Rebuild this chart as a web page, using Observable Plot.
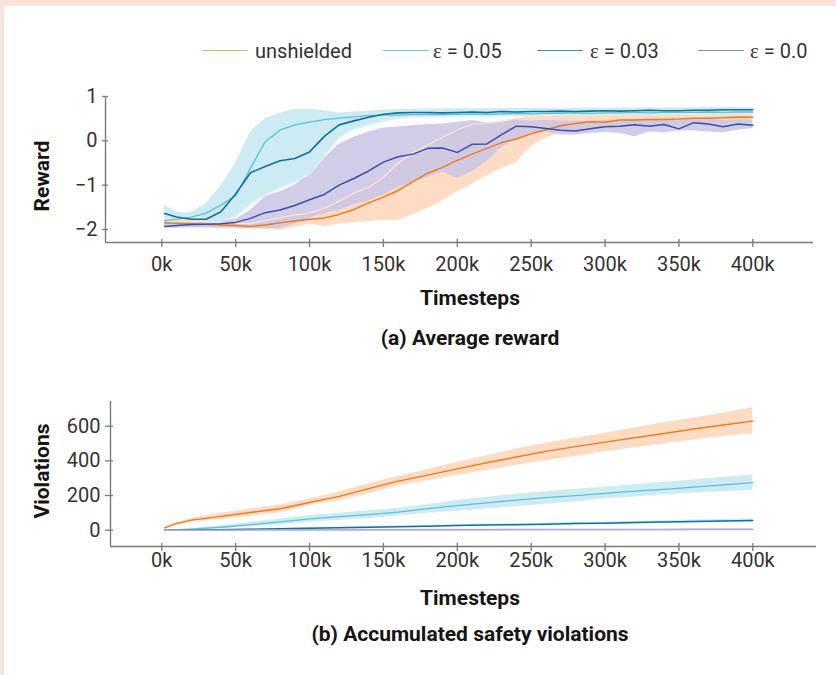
<!DOCTYPE html>
<html>
<head>
<meta charset="utf-8">
<script src="https://cdn.jsdelivr.net/npm/d3@7"></script>
<script src="https://cdn.jsdelivr.net/npm/@observablehq/plot@0.6"></script>
<style>
  html, body { margin: 0; padding: 0; background: #fff; }
  #page { position: relative; width: 836px; height: 675px; background: #fff; overflow: hidden; font-family: Roboto, sans-serif; }
  .bar-top { position: absolute; left: 0; top: 0; width: 836px; height: 6px; background: #f8e2da; }
  .bar-left { position: absolute; left: 0; top: 0; width: 4px; height: 675px; background: #f8e2da; }
  .chart { position: absolute; left: 0; }
  .lbl { position: absolute; white-space: nowrap; font-family: Roboto, sans-serif; font-weight: 700; font-size: 21px; color: #151515; transform: translate(-50%, -50%); }
  .lbl.rot { transform: translate(-50%, -50%) rotate(-90deg); }
  .leg-line { position: absolute; height: 0; border-top: 1.6px solid; }
  .leg-text { position: absolute; font-family: Roboto, sans-serif; font-size: 20px; line-height: 20px; color: #333; white-space: nowrap; }
  .eps { font-family: "Liberation Serif", serif; font-size: 21px; }
</style>
</head>
<body>
<div id="page">
  <div class="bar-top"></div>
  <div class="bar-left"></div>
</div>
<script>
// ---------- categories / series ----------
const seriesNames = ["unshielded", "ε = 0.05", "ε = 0.03", "ε = 0.0"];
const lineColors = ["#f07a22", "#5bc1d9", "#12709c", "#3b4ea5"];
const bandColors = ["#fddcc3", "#cdebf3", "#cdebf3", "#cbc6e5"];

// ---------- (a) Average reward, timesteps in thousands ----------
const xsReward = [2,10,20,30,40,50,60,70,80,90,100,110,120,130,140,150,160,170,180,190,200,210,220,230,240,250,260,270,280,290,300,310,320,330,340,350,360,370,380,390,400];

const rewardUnshielded   = [-1.85,-1.86,-1.87,-1.88,-1.90,-1.91,-1.93,-1.90,-1.85,-1.81,-1.77,-1.74,-1.66,-1.55,-1.40,-1.27,-1.12,-0.92,-0.73,-0.60,-0.44,-0.30,-0.17,-0.04,0.04,0.16,0.25,0.34,0.39,0.43,0.42,0.47,0.47,0.48,0.48,0.49,0.51,0.51,0.52,0.54,0.53];
const rewardUnshieldedLo = [-1.90,-1.94,-1.96,-1.97,-1.98,-1.98,-1.99,-2.00,-2.02,-1.95,-1.88,-1.93,-1.88,-1.84,-1.82,-1.79,-1.80,-1.66,-1.52,-1.35,-1.15,-0.98,-0.79,-0.63,-0.49,-0.12,0.06,0.18,0.21,0.26,0.28,0.30,0.32,0.36,0.34,0.36,0.38,0.40,0.40,0.42,0.42];
const rewardUnshieldedHi = [-1.80,-1.80,-1.80,-1.82,-1.84,-1.86,-1.87,-1.80,-1.74,-1.67,-1.63,-1.52,-1.36,-1.18,-1.05,-0.82,-0.50,-0.27,-0.09,0.08,0.25,0.37,0.40,0.44,0.51,0.56,0.58,0.60,0.62,0.62,0.61,0.60,0.62,0.63,0.62,0.63,0.63,0.64,0.63,0.65,0.64];

const rewardEps05   = [-1.80,-1.77,-1.72,-1.63,-1.45,-1.24,-0.62,-0.02,0.24,0.36,0.42,0.48,0.51,0.54,0.57,0.58,0.58,0.59,0.60,0.59,0.60,0.61,0.60,0.61,0.62,0.61,0.62,0.62,0.63,0.62,0.63,0.63,0.64,0.63,0.64,0.64,0.64,0.65,0.64,0.65,0.65];
const rewardEps05Lo = [-1.84,-1.85,-1.82,-1.76,-1.62,-1.45,-1.05,-0.45,-0.05,0.16,0.28,0.36,0.41,0.45,0.49,0.51,0.53,0.54,0.55,0.55,0.56,0.56,0.56,0.57,0.57,0.57,0.58,0.58,0.58,0.58,0.59,0.59,0.59,0.60,0.60,0.60,0.60,0.61,0.61,0.61,0.61];
const rewardEps05Hi = [-1.46,-1.64,-1.62,-1.42,-1.02,-0.50,0.20,0.50,0.62,0.71,0.72,0.68,0.62,0.65,0.67,0.69,0.70,0.71,0.71,0.72,0.72,0.72,0.73,0.72,0.73,0.73,0.72,0.73,0.73,0.74,0.73,0.73,0.74,0.74,0.73,0.74,0.74,0.74,0.75,0.74,0.74];

const rewardEps03   = [-1.64,-1.72,-1.77,-1.77,-1.60,-1.20,-0.72,-0.58,-0.45,-0.40,-0.25,0.10,0.36,0.45,0.53,0.60,0.63,0.64,0.64,0.63,0.64,0.65,0.64,0.66,0.65,0.66,0.66,0.67,0.66,0.67,0.68,0.67,0.68,0.69,0.68,0.68,0.69,0.69,0.70,0.70,0.70];
const rewardEps03Lo = [-1.83,-1.87,-1.87,-1.86,-1.82,-1.70,-1.42,-1.22,-1.06,-0.92,-0.76,-0.36,0.08,0.26,0.36,0.44,0.52,0.54,0.55,0.56,0.56,0.57,0.56,0.57,0.58,0.57,0.58,0.58,0.59,0.58,0.59,0.60,0.59,0.60,0.60,0.60,0.61,0.60,0.61,0.61,0.62];
const rewardEps03Hi = [-1.46,-1.60,-1.66,-1.60,-1.30,-0.80,-0.30,0.05,0.20,0.30,0.40,0.55,0.60,0.64,0.67,0.69,0.70,0.70,0.71,0.71,0.71,0.72,0.71,0.72,0.72,0.72,0.73,0.72,0.73,0.73,0.73,0.74,0.73,0.74,0.74,0.74,0.74,0.75,0.74,0.75,0.75];

const rewardEps0   = [-1.93,-1.91,-1.89,-1.88,-1.87,-1.84,-1.75,-1.62,-1.56,-1.46,-1.33,-1.21,-1.00,-0.85,-0.68,-0.48,-0.36,-0.30,-0.17,-0.16,-0.26,-0.08,-0.07,0.14,0.33,0.32,0.28,0.24,0.22,0.27,0.32,0.33,0.36,0.33,0.37,0.27,0.41,0.38,0.32,0.38,0.35];
const rewardEps0Lo = [-1.97,-1.97,-1.96,-1.96,-1.96,-1.97,-1.98,-1.98,-1.98,-1.88,-1.74,-1.64,-1.56,-1.44,-1.36,-1.22,-1.05,-0.94,-0.83,-0.70,-0.85,-0.70,-0.47,-0.15,0.04,0.17,0.20,0.13,0.13,0.17,0.18,0.17,0.09,0.20,0.18,0.22,0.23,0.20,0.18,0.24,0.28];
const rewardEps0Hi = [-1.87,-1.86,-1.85,-1.84,-1.82,-1.77,-1.57,-1.26,-1.15,-1.00,-0.74,-0.40,-0.08,0.08,0.20,0.29,0.31,0.34,0.36,0.38,0.42,0.46,0.40,0.43,0.47,0.45,0.46,0.45,0.44,0.45,0.46,0.47,0.48,0.47,0.49,0.45,0.50,0.50,0.46,0.48,0.47];

// ---------- (b) Accumulated safety violations ----------
const xsViol = [2,10,20,40,60,80,100,120,140,160,180,200,220,240,260,280,300,320,340,360,380,400];

const violUnshielded   = [13,38,58,80,102,124,160,195,240,283,318,354,389,422,455,482,508,533,558,584,607,629];
const violUnshieldedLo = [8,30,47,60,80,100,142,170,210,255,285,315,345,375,400,425,452,475,498,520,540,556];
const violUnshieldedHi = [18,45,68,98,122,146,181,220,268,310,350,392,430,468,502,530,560,590,620,648,675,706];

const violEps05   = [0,2,6,17,32,48,65,78,90,104,124,142,158,174,188,200,213,225,236,248,262,275];
const violEps05Lo = [0,1,3,8,18,30,46,58,68,82,98,110,122,136,150,162,181,192,204,214,222,229];
const violEps05Hi = [1,4,10,26,45,65,85,98,112,126,148,171,190,208,222,236,248,262,276,290,305,319];

const violEps03   = [0,0,1,3,5,8,11,14,17,20,23,27,30,32,35,38,40,44,47,50,53,56];
const violEps03Lo = [0,0,0,1,2,4,7,9,12,15,18,21,24,26,29,31,33,36,39,41,44,46];
const violEps03Hi = [0,1,2,5,8,12,15,19,22,25,28,33,36,38,41,45,47,52,55,59,62,66];

const violEps0   = [0,0,0,0,1,1,1,1,2,2,2,2,2,3,3,3,3,3,3,4,4,4];
const violEps0Lo = [-3,-3,-3,-3,-3,-3,-3,-3,-2,-2,-2,-2,-2,-1,-1,-1,-1,-1,-1,0,0,0];
const violEps0Hi = [3,4,4,4,5,5,5,5,6,6,6,6,6,7,7,7,7,7,7,8,8,8];

// tick labels
const xTicks = [0,50,100,150,200,250,300,350,400];
const rewardTicks = [-2,-1,0,1];
const violTicks = [0,200,400,600];

// ---------- helpers ----------
function rows(xs, mean, lo, hi) {
  return xs.map((x, i) => ({x, y: mean[i], lo: lo[i], hi: hi[i]}));
}
const R = [
  rows(xsReward, rewardUnshielded, rewardUnshieldedLo, rewardUnshieldedHi),
  rows(xsReward, rewardEps05, rewardEps05Lo, rewardEps05Hi),
  rows(xsReward, rewardEps03, rewardEps03Lo, rewardEps03Hi),
  rows(xsReward, rewardEps0, rewardEps0Lo, rewardEps0Hi)
];
const V = [
  rows(xsViol, violUnshielded, violUnshieldedLo, violUnshieldedHi),
  rows(xsViol, violEps05, violEps05Lo, violEps05Hi),
  rows(xsViol, violEps03, violEps03Lo, violEps03Hi),
  rows(xsViol, violEps0, violEps0Lo, violEps0Hi)
];

const fontStyle = {fontFamily: "Roboto, sans-serif", fontSize: "20px", background: "transparent", overflow: "visible"};
const axisGray = "#7a7a7a";
const intFmt = d3.format("d");

// ---------- chart (a) ----------
const xDomA = [-36.08, 441.1];
const yDomA = [-2.226, 1.0];
const chartA = Plot.plot({
  width: 836, height: 290,
  marginLeft: 108, marginRight: 23, marginTop: 96, marginBottom: 51,
  x: {domain: xDomA},
  y: {domain: yDomA},
  style: fontStyle,
  marks: [
    Plot.areaY(R[1], {x: "x", y1: "lo", y2: "hi", fill: bandColors[1]}),
    Plot.areaY(R[2], {x: "x", y1: "lo", y2: "hi", fill: bandColors[2]}),
    Plot.areaY(R[0], {x: "x", y1: "lo", y2: "hi", fill: bandColors[0]}),
    Plot.areaY(R[3], {x: "x", y1: "lo", y2: "hi", fill: bandColors[3], fillOpacity: 0.88}),
    Plot.lineY(R[0], {x: "x", y: "hi", stroke: "#fde4d0", strokeWidth: 1.3}),
    Plot.lineY(R[2], {x: "x", y: "lo", stroke: "#d4eff6", strokeWidth: 1.3}),
    Plot.lineY(R[0], {x: "x", y: "y", stroke: lineColors[0], strokeWidth: 1.5}),
    Plot.lineY(R[1], {x: "x", y: "y", stroke: lineColors[1], strokeWidth: 1.3}),
    Plot.lineY(R[2], {x: "x", y: "y", stroke: lineColors[2], strokeWidth: 1.6}),
    Plot.lineY(R[3], {x: "x", y: "y", stroke: lineColors[3], strokeWidth: 1.5}),
    Plot.ruleY([yDomA[0]], {dy: 3, stroke: axisGray, strokeWidth: 1.4, insetLeft: -3}),
    Plot.ruleX([xDomA[0]], {dx: -3, stroke: axisGray, strokeWidth: 1.4, insetBottom: -3}),
    Plot.axisX({ticks: xTicks, tickFormat: d => d + "k", tickSize: 8, tickPadding: 9, stroke: axisGray, strokeWidth: 1.3, fill: "#333", label: null}),
    Plot.axisY({ticks: rewardTicks, tickFormat: intFmt, tickSize: 6, tickPadding: 5, stroke: axisGray, strokeWidth: 1.3, fill: "#333", label: null})
  ]
});

// ---------- chart (b) ----------
const xDomB = [-32.69, 443.1];
const yDomB = [-76.7, 742.5];
const chartB = Plot.plot({
  width: 836, height: 200,
  marginLeft: 113, marginRight: 20, marginTop: 21, marginBottom: 37,
  x: {domain: xDomB},
  y: {domain: yDomB},
  style: fontStyle,
  marks: [
    Plot.areaY(V[0], {x: "x", y1: "lo", y2: "hi", fill: bandColors[0]}),
    Plot.areaY(V[1], {x: "x", y1: "lo", y2: "hi", fill: bandColors[1]}),
    Plot.areaY(V[2], {x: "x", y1: "lo", y2: "hi", fill: bandColors[2]}),
    Plot.areaY(V[3], {x: "x", y1: "lo", y2: "hi", fill: bandColors[3]}),
    Plot.lineY(V[0], {x: "x", y: "y", stroke: lineColors[0], strokeWidth: 1.4}),
    Plot.lineY(V[1], {x: "x", y: "y", stroke: lineColors[1], strokeWidth: 1.3}),
    Plot.lineY(V[2], {x: "x", y: "y", stroke: lineColors[2], strokeWidth: 1.5}),
    Plot.lineY(V[3], {x: "x", y: "y", stroke: "#b3acd8", strokeWidth: 1.6}),
    Plot.ruleY([yDomB[0]], {dy: 3, stroke: axisGray, strokeWidth: 1.4, insetLeft: -3}),
    Plot.ruleX([xDomB[0]], {dx: -3, stroke: axisGray, strokeWidth: 1.4, insetBottom: -3}),
    Plot.axisX({ticks: xTicks, tickFormat: d => d + "k", tickSize: 8, tickPadding: 1, stroke: axisGray, strokeWidth: 1.3, fill: "#333", label: null}),
    Plot.axisY({ticks: violTicks, tickFormat: intFmt, tickSize: 8, tickPadding: 5, stroke: axisGray, strokeWidth: 1.3, fill: "#333", label: null})
  ]
});

const page = document.getElementById("page");
chartA.classList.add("chart"); chartA.style.top = "0px";
chartB.classList.add("chart"); chartB.style.top = "380px";
page.appendChild(chartA);
page.appendChild(chartB);

// ---------- text labels ----------
function label(text, cx, cy, rot) {
  const d = document.createElement("div");
  d.className = "lbl" + (rot ? " rot" : "");
  d.textContent = text;
  d.style.left = cx + "px";
  d.style.top = cy + "px";
  page.appendChild(d);
}
label("Reward", 42, 176, true);
label("Timesteps", 470, 298, false);
label("(a) Average reward", 470, 338, false);
label("Violations", 42, 471, true);
label("Timesteps", 470, 598, false);
label("(b) Accumulated safety violations", 470, 634, false);

// ---------- legend ----------
const legendLineX = [202, 383, 537, 698];
const legendTextX = [255, 433, 590, 750];
const legendColors = ["#f7a468", "#6cc8de", "#3f93b9", "#8790c8"];
seriesNames.forEach((name, i) => {
  const ln = document.createElement("div");
  ln.className = "leg-line";
  ln.style.left = legendLineX[i] + "px";
  ln.style.top = "50px";
  ln.style.width = "46px";
  ln.style.borderTopColor = legendColors[i];
  page.appendChild(ln);
  const tx = document.createElement("div");
  tx.className = "leg-text";
  tx.style.left = legendTextX[i] + "px";
  tx.style.top = "41px";
  if (name.startsWith("ε")) {
    const e = document.createElement("span");
    e.className = "eps";
    e.textContent = "ε";
    tx.appendChild(e);
    tx.appendChild(document.createTextNode(name.slice(1)));
  } else {
    tx.textContent = name;
  }
  page.appendChild(tx);
});
</script>
</body>
</html>
